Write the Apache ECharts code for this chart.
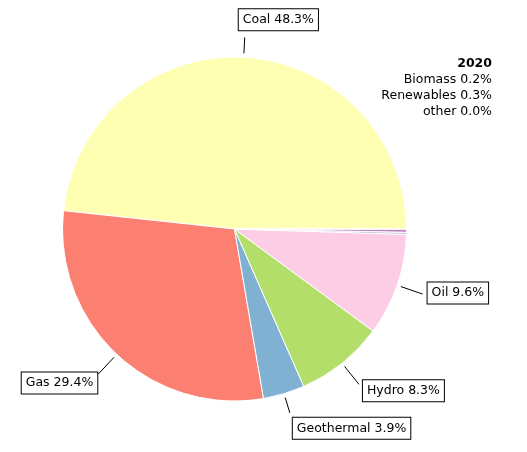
<!DOCTYPE html>
<html>
<head>
<meta charset="utf-8">
<script src="https://cdn.jsdelivr.net/npm/echarts@6/dist/echarts.min.js"></script>
<style>html,body{margin:0;padding:0;background:#fff}#c{width:527px;height:452px}</style>
</head>
<body>
<div id="c"></div>
<script>
var categories = ['Coal', 'Gas', 'Geothermal', 'Hydro', 'Oil', 'Biomass', 'Renewables', 'other'];
var values = [48.3, 29.4, 3.9, 8.3, 9.6, 0.2, 0.3, 0.0];
var colors = ['#ffffb3', '#fb8072', '#80b1d3', '#b3de69', '#fccde5', '#bebada', '#bc80bd', '#d9d9d9'];
var labelled = ['Coal', 'Gas', 'Geothermal', 'Hydro', 'Oil'];
var sideNote = ['Biomass', 'Renewables', 'other'];
var yearTitle = '2020';

var FONT = 'DejaVu Sans';
var FS = 12.5;
var chart = echarts.init(document.getElementById('c'), null, {renderer: 'canvas'});
var data = categories.map(function (c, i) {
  var show = labelled.indexOf(c) >= 0;
  return {
    name: c, value: values[i],
    itemStyle: {color: colors[i]},
    label: {show: show},
    labelLine: {show: show}
  };
});
var noteLines = sideNote.map(function (n) {
  return '{n|' + n + ' ' + values[categories.indexOf(n)].toFixed(1) + '%}';
});
var CX = 234.5, CY = 229, R = 172;
chart.setOption({
  animation: false,
  graphic: [{
    type: 'text',
    x: 492, y: 55,
    style: {
      text: ['{b|' + yearTitle + '}'].concat(noteLines).join('\n'),
      align: 'right', verticalAlign: 'top',
      rich: {
        b: {fontFamily: FONT, fontSize: FS, fontWeight: 'bold', fill: '#000', lineHeight: 16.5, align: 'right'},
        n: {fontFamily: FONT, fontSize: FS, fill: '#000', lineHeight: 16, align: 'right'}
      }
    }
  }],
  series: [{
    type: 'pie',
    center: [CX, CY],
    radius: [0, R],
    startAngle: 0,
    clockwise: false,
    avoidLabelOverlap: false,
    itemStyle: {borderColor: '#fff', borderWidth: 1},
    label: {
      position: 'outside',
      formatter: function (p) { return p.name + ' ' + p.value.toFixed(1) + '%'; },
      fontFamily: FONT, fontSize: FS, color: '#000',
      backgroundColor: '#fff', borderColor: '#000', borderWidth: 1,
      padding: [4, 4, 4, 4]
    },
    labelLine: {length: 22, length2: 0, lineStyle: {color: '#000', width: 1}},
    labelLayout: function (p) {
      var pts = p.labelLinePoints;
      if (!pts) return {};
      var s0 = pts[0];
      var ux = s0[0] - CX, uy = s0[1] - CY;
      var ul = Math.sqrt(ux * ux + uy * uy);
      ux /= ul; uy /= ul;
      var sn = -uy;
      var steep = Math.abs(sn) > 0.85;
      var re = R + (steep ? 20 : 27);
      var s = [CX + ux * (R + 4), CY + uy * (R + 4)];
      var e = [CX + ux * re, CY + uy * re];
      var w = p.labelRect.width, h = p.labelRect.height;
      var x, y;
      if (steep) {
        if (sn > 0) { x = e[0] - 6; y = e[1] - h - 5; }
        else { x = e[0] + 3; y = e[1] + 5; }
      } else if (Math.abs(sn) > 0.5) {
        x = ux >= 0 ? e[0] + 4 : e[0] - w + 1;
        y = sn > 0 ? e[1] - h + 2 : (ux >= 0 ? e[1] - 4 : e[1] - 1.5);
      } else {
        x = ux >= 0 ? e[0] + 5 : e[0] - w - 3;
        y = e[1] - h / 2;
      }
      return {x: x, y: y, align: 'left', verticalAlign: 'top', labelLinePoints: [s, e, e]};
    },
    data: data
  }]
});
</script>
</body>
</html>
